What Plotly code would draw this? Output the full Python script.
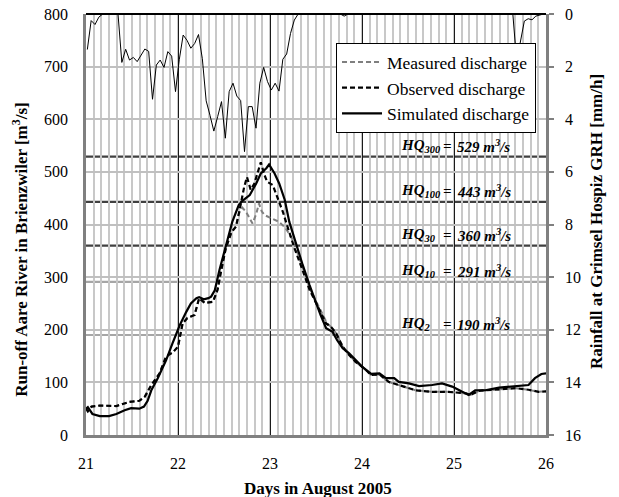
import plotly.graph_objects as go

# ---------------- data ----------------
# Simulated discharge (day in August 2005, m3/s)
sim_t = [21.00, 21.02, 21.07, 21.15, 21.25, 21.33, 21.42, 21.49, 21.58, 21.63, 21.67, 21.71,
         21.78, 21.87, 21.94, 22.02, 22.09, 22.14, 22.20, 22.23, 22.28, 22.33, 22.36, 22.40,
         22.45, 22.52, 22.59, 22.66, 22.70, 22.78, 22.85, 22.90, 22.96, 22.99, 23.05, 23.10,
         23.16, 23.21, 23.28, 23.35, 23.43, 23.50, 23.55, 23.61, 23.68, 23.73, 23.79, 23.86,
         23.93, 24.00, 24.10, 24.19, 24.26, 24.35, 24.40, 24.51, 24.62, 24.76, 24.87, 24.98,
         25.09, 25.16, 25.23, 25.34, 25.49, 25.63, 25.81, 25.88, 25.95, 26.00]
sim_q = [50, 53, 40, 36, 36, 40, 47, 51, 50, 54, 65, 85,
         108, 142, 174, 209, 234, 250, 260, 262, 258, 260, 263, 275,
         313, 358, 405, 437, 445, 456, 478, 497, 507, 514, 497, 478,
         447, 405, 364, 326, 285, 250, 228, 203, 196, 180, 165, 155,
         142, 130, 116, 117, 108, 108, 101, 98, 93, 95, 98, 92,
         82, 76, 85, 85, 90, 92, 95, 108, 116, 117]

# Observed discharge
obs_t = [21.00, 21.02, 21.06, 21.15, 21.33, 21.47, 21.58, 21.64, 21.71, 21.80, 21.87, 21.95,
         22.00, 22.05, 22.10, 22.18, 22.23, 22.29, 22.38, 22.43, 22.47, 22.52, 22.58, 22.63,
         22.67, 22.72, 22.75, 22.79, 22.83, 22.87, 22.90, 22.94, 22.97, 23.03, 23.08, 23.14,
         23.19, 23.26, 23.34, 23.43, 23.52, 23.61, 23.66, 23.72, 23.79, 23.86, 23.93, 24.02,
         24.10, 24.19, 24.29, 24.44, 24.58, 24.76, 24.94, 25.13, 25.18, 25.27, 25.49, 25.67,
         25.81, 25.92, 26.00]
obs_q = [50, 45, 54, 56, 55, 63, 65, 73, 95, 117, 149, 158,
         168, 212, 222, 228, 260, 251, 253, 276, 313, 355, 385, 396,
         428, 472, 490, 466, 478, 503, 518, 494, 481, 475, 453, 424,
         396, 358, 320, 276, 244, 212, 206, 193, 168, 152, 139, 127,
         114, 115, 101, 92, 85, 82, 82, 79, 76, 84, 86, 89,
         86, 82, 83]

# Measured discharge
meas_t = [21.00, 21.02, 21.06, 21.15, 21.33, 21.47, 21.58, 21.64, 21.71, 21.80, 21.87, 21.95,
          22.00, 22.05, 22.10, 22.18, 22.23, 22.29, 22.38, 22.43, 22.47, 22.52, 22.58, 22.63,
          22.67, 22.70, 22.74, 22.78, 22.81, 22.85, 22.88, 22.91, 22.94, 23.01, 23.10, 23.17,
          23.25, 23.32, 23.39, 23.45, 23.53, 23.62, 23.66, 23.72, 23.79, 23.86, 23.93, 24.02,
          24.10, 24.19, 24.29, 24.44, 24.58, 24.76, 24.94, 25.13, 25.18, 25.27, 25.49, 25.67,
          25.81, 25.92, 26.00]
meas_q = [50, 45, 54, 56, 55, 63, 65, 73, 95, 117, 149, 158,
          168, 212, 222, 228, 260, 251, 253, 276, 313, 355, 385, 396,
          425, 432, 424, 410, 402, 420, 440, 425, 418, 412, 405, 393,
          370, 335, 301, 272, 244, 212, 206, 193, 168, 152, 139, 127,
          114, 115, 101, 92, 85, 82, 82, 79, 76, 84, 86, 89,
          86, 82, 83]

# Hourly rainfall at Grimsel Hospiz (mm/h), hours from 21 Aug 00:00
rain_mm = [1.35, 0.25, 0.40, 0.12, 0, 0, 0, 0, 0, 1.84,
           1.34, 1.75, 1.65, 1.81, 1.56, 1.33, 1.42, 3.24, 1.94, 1.75,
           2.03, 1.43, 1.60, 2.95, 1.72, 0.80, 1.00, 1.30, 1.12, 0.78,
           1.70, 3.30, 3.85, 4.45, 3.90, 3.33, 4.72, 2.95, 2.63, 3.12,
           3.29, 5.23, 3.52, 3.52, 4.34, 2.63, 2.03, 2.57, 2.89, 2.63,
           2.93, 1.72, 1.52, 0.74, 0.23, 0, 0, 0, 0, 0,
           0, 0, 0, 0, 0, 0, 0, 0.08, 0, 0,
           0, 0, 0, 0, 0, 0, 0, 0, 0, 0,
           0, 0, 0, 0, 0, 0, 0, 0, 0, 0,
           0, 0, 0, 0, 0, 0, 0, 0, 0, 0,
           0, 0, 0, 0, 0, 0, 0, 0, 0, 0,
           0, 0, 1.80, 1.10, 0.27, 0.18, 0.22, 0.08, 0.03, 0,
           0]
rain_t = [21 + (h + 0.35) / 24 for h in range(len(rain_mm))]

# Flood return-period discharges
hq_names = ["2", "10", "30", "100", "300"]
hq_values = [190, 291, 360, 443, 529]
hq_colors = ["#a6a6a6", "#a6a6a6", "#404040", "#404040", "#404040"]

day_ticks = [21, 22, 23, 24, 25, 26]
q_ticks = [0, 100, 200, 300, 400, 500, 600, 700, 800]
rain_ticks = [0, 2, 4, 6, 8, 10, 12, 14, 16]

FONT = "Liberation Serif, Times New Roman, Times, DejaVu Serif, serif"

fig = go.Figure()

fig.add_trace(go.Scatter(x=meas_t, y=meas_q, mode="lines", name="Measured discharge",
                         line=dict(color="#7f7f7f", width=2, dash="5px,3px"),
                         legendgroup="a"))
fig.add_trace(go.Scatter(x=obs_t, y=obs_q, mode="lines", name="Observed discharge",
                         line=dict(color="black", width=2.2, dash="5px,3px"),
                         legendgroup="b"))
fig.add_trace(go.Scatter(x=sim_t, y=sim_q, mode="lines", name="Simulated discharge",
                         line=dict(color="black", width=2.2),
                         legendgroup="c"))
fig.add_trace(go.Scatter(x=rain_t, y=rain_mm, mode="lines", yaxis="y2", showlegend=False,
                         line=dict(color="black", width=1), cliponaxis=False))

shapes = []
annotations = []
for name, v, c in zip(hq_names, hq_values, hq_colors):
    shapes.append(dict(type="line", xref="x domain", yref="y", x0=0, x1=1, y0=v, y1=v,
                       line=dict(color=c, width=2.2), layer="below"))
    fnt = dict(family=FONT, size=15, color="black")
    annotations.append(dict(x=24.40, y=v, xref="x", yref="y", xanchor="left", yanchor="middle",
                            yshift=11, showarrow=False, font=fnt,
                            text="<b><i>HQ<sub>%s</sub></i></b>" % name))
    annotations.append(dict(x=24.925, y=v, xref="x", yref="y", xanchor="center", yanchor="middle",
                            yshift=11, showarrow=False, font=fnt, text="<b><i>=</i></b>"))
    annotations.append(dict(x=25.01, y=v, xref="x", yref="y", xanchor="left", yanchor="middle",
                            yshift=11, showarrow=False, font=fnt,
                            text="<b><i>%d m<sup>3</sup>/s</i></b>" % v))

# top border
shapes.append(dict(type="line", xref="paper", yref="paper", x0=0, x1=1, y0=1, y1=1,
                   line=dict(color="black", width=2)))

title_font = dict(family=FONT, size=17, color="black")
annotations.append(dict(x=0.504, y=-0.126, xref="paper", yref="paper", showarrow=False,
                        xanchor="center", yanchor="middle", font=title_font,
                        text="<b>Days in August 2005</b>"))
annotations.append(dict(x=-0.1435, y=0.44, xref="paper", yref="paper", showarrow=False,
                        xanchor="center", yanchor="middle", textangle=-90, font=title_font,
                        text="<b>Run-off Aare River in Brienzwiler [m<sup>3</sup>/s]</b>"))
annotations.append(dict(x=1.111, y=0.506, xref="paper", yref="paper", showarrow=False,
                        xanchor="center", yanchor="middle", textangle=-90, font=title_font,
                        text="<b>Rainfall at Grimsel Hospiz GRH [mm/h]</b>"))

tick_font = dict(family=FONT, size=16, color="black")

fig.update_layout(
    width=619, height=497,
    margin=dict(l=86, r=73, t=14, b=62, autoexpand=False),
    paper_bgcolor="white", plot_bgcolor="white",
    font=dict(family=FONT, color="black"),
    xaxis=dict(range=[21, 26], tickvals=day_ticks, ticks="", showgrid=True,
               gridcolor="#1a1a1a", gridwidth=1, automargin=False, ticklabeloverflow="allow",
               minor=dict(dtick=1 / 12, showgrid=True, gridcolor="#c8c8c8", gridwidth=1.5, ticks=""),
               showline=True, linecolor="#808080", linewidth=2.5, zeroline=False,
               tickfont=tick_font, ticklabelstandoff=12),
    yaxis=dict(range=[0, 800], tickvals=q_ticks, ticks="", showgrid=True, automargin=False,
               ticklabeloverflow="allow",
               gridcolor="#c0c0c0", gridwidth=1.5, showline=True, linecolor="#808080",
               linewidth=2.5, zeroline=False, tickfont=tick_font, ticklabelstandoff=12),
    yaxis2=dict(range=[16, 0], tickvals=rain_ticks, overlaying="y", side="right",
                showgrid=False, zeroline=False, showline=True, linecolor="#808080",
                linewidth=2.5, ticks="outside", ticklen=5, tickcolor="#808080", tickwidth=1.5,
                tickfont=tick_font, ticklabelstandoff=8, automargin=False,
                ticklabeloverflow="allow"),
    legend=dict(x=0.5435, y=0.931, xanchor="left", yanchor="top", bgcolor="white",
                bordercolor="black", borderwidth=1, font=dict(family=FONT, size=17.5, color="black"),
                tracegroupgap=10, traceorder="normal", itemwidth=40),
    shapes=shapes,
    annotations=annotations,
)

# remove the default page margin so the 619x497 figure fills the window exactly
fig.write_html("out.html",
               config={"displayModeBar": False},
               post_script="document.body.style.margin='0px';"
                           "document.body.style.overflow='hidden';")
